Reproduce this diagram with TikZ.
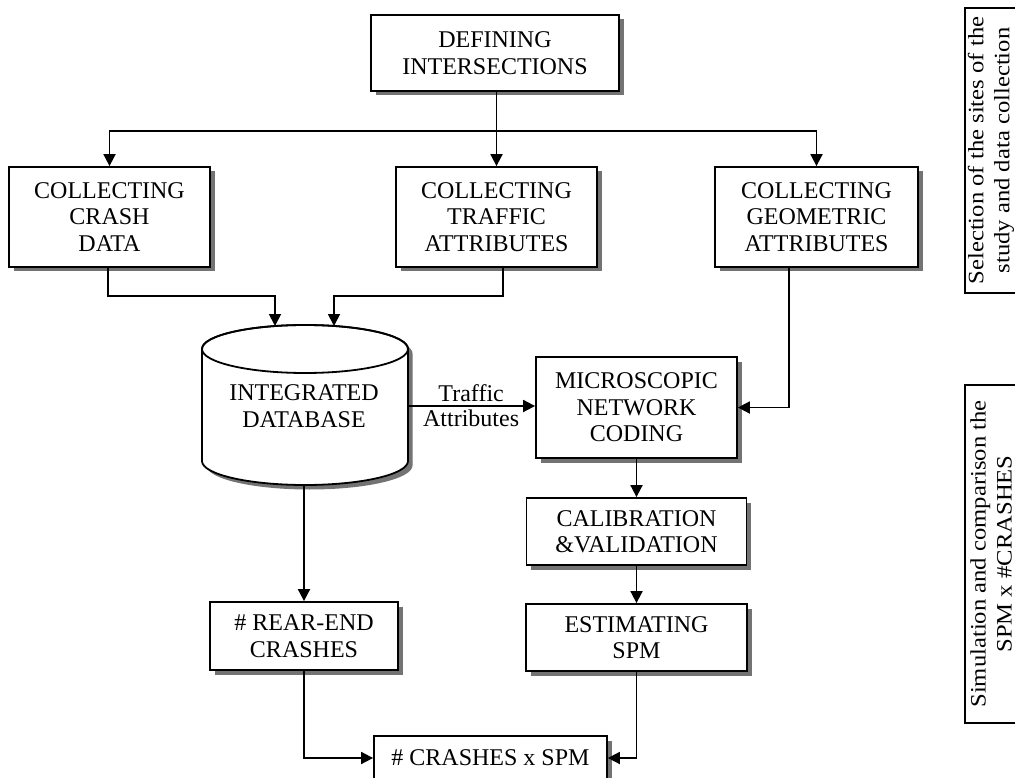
\documentclass[tikz,border=0pt]{standalone}
\usepackage{fontspec}
\setmainfont{Liberation Serif}
\newfontfamily\sidefont[FakeStretch=1.12]{Liberation Serif}
\usetikzlibrary{arrows.meta,shadows}
\definecolor{shadowgray}{gray}{0.45}
\tikzset{
  box/.style={draw, line width=1.8pt, fill=white, align=center, inner sep=0pt,
    font=\fontsize{24}{26.5}\selectfont,
    drop shadow={shadow xshift=4.5pt, shadow yshift=-4.5pt, opacity=1, fill=shadowgray}},
  arr/.style={line width=1.8pt, -{Triangle[length=12pt,width=12pt]}},
  sidebox/.style={draw, line width=1.8pt, rotate=90, align=center, inner sep=0pt,
    font=\sidefont\fontsize{22}{26}\selectfont},
  lbl/.style={font=\fontsize{24}{26}\selectfont, inner sep=1pt}
}
\begin{document}
\begin{tikzpicture}[x=1pt,y=-1pt]
\clip (0,0) rectangle (1015,778);
\fill[white] (0,0) rectangle (1015,778);

% boxes
\node[box, minimum width=248pt, minimum height=76pt] (def) at (495,53) {DEFINING\\INTERSECTIONS};
\node[box, minimum width=201pt, minimum height=100pt] (crash) at (109.5,217) {COLLECTING\\CRASH\\DATA};
\node[box, minimum width=201pt, minimum height=100pt] (traffic) at (496.5,217) {COLLECTING\\TRAFFIC\\ATTRIBUTES};
\node[box, minimum width=203pt, minimum height=100pt] (geom) at (816.5,217) {COLLECTING\\GEOMETRIC\\ATTRIBUTES};
\node[box, minimum width=201pt, minimum height=101pt] (micro) at (636.5,407.5) {MICROSCOPIC\\NETWORK\\CODING};
\node[box, minimum width=220pt, minimum height=67pt] (calib) at (636.5,531.5) {CALIBRATION\\\&VALIDATION};
\node[box, minimum width=221pt, minimum height=67pt] (estim) at (636.5,637.5) {ESTIMATING\\SPM};
\node[box, minimum width=188pt, minimum height=68pt] (rear) at (304,636) {\# REAR-END\\CRASHES};
\node[box, minimum width=233pt, minimum height=44pt] (final) at (490.5,758) {\# CRASHES x SPM};

% cylinder
\fill[shadowgray, xshift=4.5pt, yshift=-4.5pt] (202,349) -- (202,461)
  arc[start angle=180, end angle=360, x radius=103pt, y radius=24pt] -- (408,349)
  arc[start angle=0, end angle=180, x radius=103pt, y radius=24pt] -- cycle;
\filldraw[line width=1.8pt, fill=white] (202,349) -- (202,461)
  arc[start angle=180, end angle=360, x radius=103pt, y radius=24pt] -- (408,349)
  arc[start angle=0, end angle=180, x radius=103pt, y radius=24pt] -- cycle;
\draw[line width=1.8pt] (305,349) ellipse [x radius=103pt, y radius=24pt];
\node[align=center, font=\fontsize{24}{26.5}\selectfont, minimum width=206pt, minimum height=160pt, inner sep=0pt] (db) at (304,406) {INTEGRATED\\DATABASE};

% side boxes
\draw[line width=1.8pt] (965,8) rectangle (1030,293);
\draw[line width=1.8pt] (965,385) rectangle (1030,723);
\node[rotate=90, align=center, inner sep=0pt, font=\sidefont\fontsize{22}{26}\selectfont] (side1) at (991,150.5) {Selection of the sites of the\\study and data collection};
\node[rotate=90, align=center, inner sep=0pt, font=\sidefont\fontsize{22}{26}\selectfont] (side2) at (991,554) {Simulation and comparison the\\SPM x \#CRASHES};

% connectors
\coordinate (split) at (496.5,131);
\coordinate (dbin1) at (275,326);
\coordinate (dbin2) at (334,326);
\draw[arr] ([xshift=1.5pt]def.south) -- (traffic.north);
\draw[arr] (split) -| (crash.north);
\draw[arr] (split) -| (geom.north);
\draw[arr] ([xshift=-1.5pt]crash.south) -- ++(0,28) -| (dbin1);
\draw[arr] ([xshift=6.5pt]traffic.south) -- ++(0,28) -| (dbin2);
\draw[arr] (db.east) -- (db.east -| micro.west)
  node[lbl, midway, above=2pt] {Traffic}
  node[lbl, midway, below=2pt] {Attributes};
\draw[arr] ([xshift=-27.5pt]geom.south) |- (micro.east);
\draw[arr] (micro.south) -- (calib.north);
\draw[arr] (calib.south) -- (estim.north);
\draw[arr] (db.south) -- (rear.north);
\draw[arr] (rear.south) |- (final.west);
\draw[arr] (estim.south) |- (final.east);
\end{tikzpicture}
\end{document}
